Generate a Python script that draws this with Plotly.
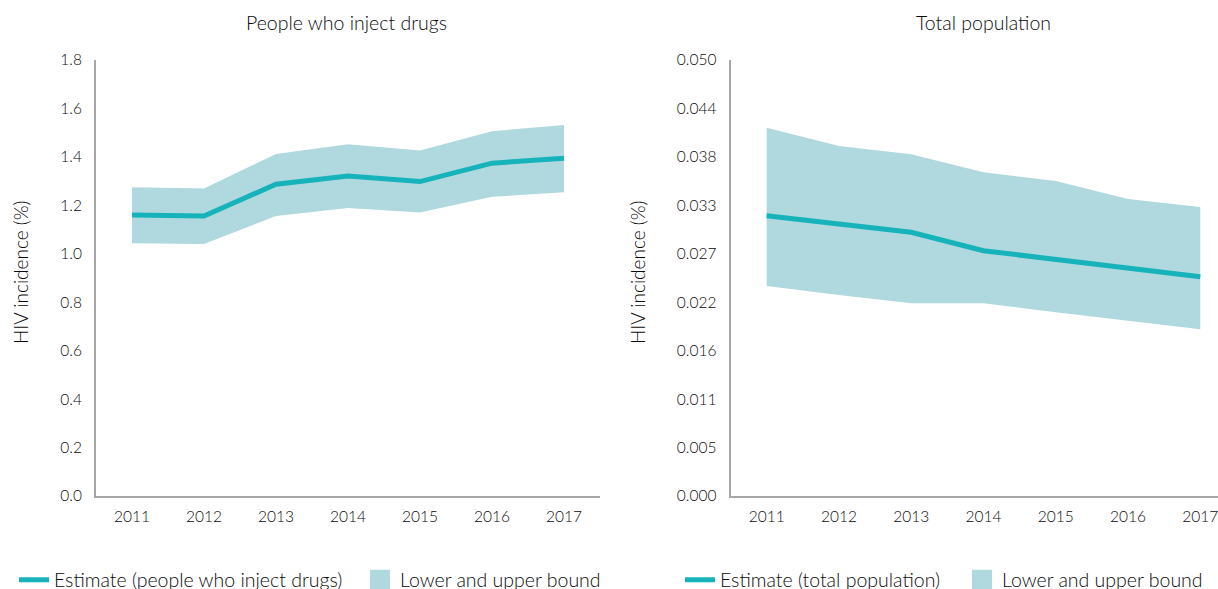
import plotly.graph_objects as go

years = ["2011", "2012", "2013", "2014", "2015", "2016", "2017"]

pwid_est = [1.160, 1.156, 1.287, 1.321, 1.298, 1.374, 1.394]
pwid_low = [1.043, 1.040, 1.156, 1.189, 1.170, 1.235, 1.254]
pwid_up = [1.275, 1.270, 1.412, 1.452, 1.426, 1.506, 1.532]

tot_est = [0.03215, 0.0312, 0.03024, 0.02813, 0.02718, 0.02622, 0.02515]
tot_low = [0.02408, 0.02305, 0.0221, 0.0221, 0.02106, 0.0201, 0.01912]
tot_up = [0.04224, 0.04014, 0.03919, 0.03712, 0.03612, 0.03406, 0.03314]

left_ticks = [0.0, 0.2, 0.4, 0.6, 0.8, 1.0, 1.2, 1.4, 1.6, 1.8]
left_ticktext = ["0.0", "0.2", "0.4", "0.6", "0.8", "1.0", "1.2", "1.4", "1.6", "1.8"]
right_ticktext = ["0.000", "0.005", "0.011", "0.016", "0.022", "0.027", "0.033", "0.038", "0.044", "0.050"]
right_max = 0.05
right_ticks = [right_max * i / 9 for i in range(10)]

LINE = "#16b3bb"
FILL = "#afd9de"
FONT = "Lato"
TXT = "#0a0a0a"
WT = 300

fig = go.Figure()

def add_panel(xa, ya, est, low, up, est_name, leg):
    fig.add_trace(go.Scatter(
        x=years + years[::-1], y=up + low[::-1],
        fill="toself", fillcolor=FILL, mode="none",
        name="Lower and upper bound", showlegend=False, legend=leg,
        xaxis=xa, yaxis=ya, hoverinfo="skip"))
    fig.add_trace(go.Scatter(
        x=years, y=est, mode="lines", line=dict(color=LINE, width=5),
        name=est_name, legend=leg, legendrank=1,
        xaxis=xa, yaxis=ya))
    # legend entry for the band (square swatch)
    fig.add_trace(go.Scatter(
        x=[None], y=[None], mode="markers",
        marker=dict(symbol="square", size=16, color=FILL, line=dict(color=FILL, width=4)),
        name="Lower and upper bound", legend=leg, legendrank=2,
        xaxis=xa, yaxis=ya, hoverinfo="skip"))

add_panel("x", "y", pwid_est, pwid_low, pwid_up, "Estimate (people who inject drugs)", "legend")
add_panel("x2", "y2", tot_est, tot_low, tot_up, "Estimate (total population)", "legend2")

W, H = 1218, 589
ML, MR, MT, MB = 96, 0, 60, 93
PW = W - ML - MR
PH = H - MT - MB

def px(xpix):
    return (xpix - ML) / PW

def py(ypix):
    return (H - MB - ypix) / PH

tickfont = dict(family=FONT, size=15.5, color=TXT, weight=WT)
axis_common = dict(
    showline=True, linecolor="#a6a6a6", linewidth=2,
    showgrid=False, zeroline=False,
    ticks="outside", tickcolor="rgba(0,0,0,0)",
    tickfont=tickfont,
)
title_font = dict(family=FONT, size=19.5, color=TXT, weight=WT)
ytitle_font = dict(family=FONT, size=19, color=TXT, weight=WT)
legend_font = dict(family=FONT, size=19.5, color=TXT, weight=WT)

fig.update_layout(
    width=W, height=H,
    margin=dict(l=ML, r=MR, t=MT, b=MB, autoexpand=False),
    paper_bgcolor="white", plot_bgcolor="white",
    font=dict(family=FONT, color=TXT),
    xaxis=dict(domain=[0, px(600)], type="category", range=[-0.5, 6.5],
               ticklen=5, anchor="y", **axis_common),
    yaxis=dict(domain=[0, 1], range=[0, 1.8], tickvals=left_ticks, ticktext=left_ticktext,
               ticklen=9, anchor="x", **axis_common),
    xaxis2=dict(domain=[px(730.5), 1], type="category", range=[-0.5, 6.245],
                ticklen=5, anchor="y2", **axis_common),
    yaxis2=dict(domain=[0, 1], range=[0, right_max], tickvals=right_ticks, ticktext=right_ticktext,
                ticklen=9, anchor="x2", **axis_common),
    legend=dict(orientation="h", x=px(14), y=py(580), xanchor="left", yanchor="middle",
                font=legend_font, bgcolor="rgba(0,0,0,0)",
                traceorder="normal", itemwidth=30, entrywidth=301, entrywidthmode="pixels"),
    legend2=dict(orientation="h", x=px(680), y=py(580), xanchor="left", yanchor="middle",
                 font=legend_font, bgcolor="rgba(0,0,0,0)",
                 traceorder="normal", itemwidth=30, entrywidth=237, entrywidthmode="pixels"),
    annotations=[
        dict(text="People who inject drugs", x=px(346), y=py(23), xref="paper", yref="paper",
             xanchor="center", yanchor="middle", showarrow=False, font=title_font),
        dict(text="Total population", x=px(983), y=py(23), xref="paper", yref="paper",
             xanchor="center", yanchor="middle", showarrow=False, font=title_font),
        dict(text="HIV incidence (%)", x=px(20), y=py(273), xref="paper", yref="paper",
             xanchor="center", yanchor="middle",
             textangle=-90, showarrow=False, font=ytitle_font),
        dict(text="HIV incidence (%)", x=px(637), y=py(273), xref="paper", yref="paper",
             xanchor="center", yanchor="middle",
             textangle=-90, showarrow=False, font=ytitle_font),
    ],
    showlegend=True,
)

fig.write_html("out.html", config={"displayModeBar": False},
               post_script="document.body.style.margin='0';")
